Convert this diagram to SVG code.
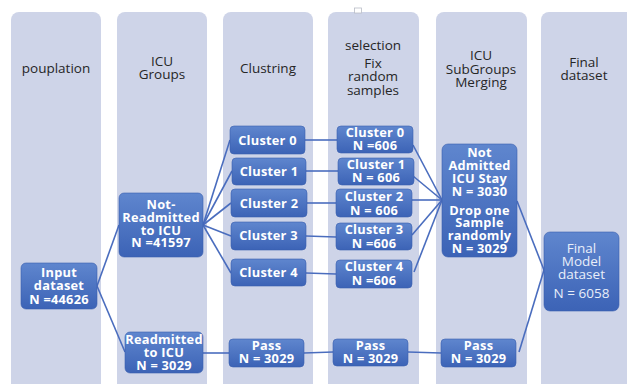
<svg xmlns="http://www.w3.org/2000/svg" width="627" height="384" viewBox="0 0 627 384">
<defs>
<linearGradient id="g" x1="0" y1="0" x2="0" y2="1">
<stop offset="0" stop-color="#5F86CE"/>
<stop offset="1" stop-color="#3C63B6"/>
</linearGradient>
<style>
.col{fill:#CED4E8}
.hd{font-family:"Open Sans","DejaVu Sans",sans-serif;font-size:13.5px;fill:#262626;text-anchor:middle}
.nd{fill:url(#g);stroke:#3A5FAE;stroke-width:0.6}
.t{font-family:"Open Sans","DejaVu Sans",sans-serif;font-size:12.8px;letter-spacing:0.25px;font-weight:bold;fill:#FFFFFF;text-anchor:middle}
.tn{font-family:"Open Sans","DejaVu Sans",sans-serif;font-size:13.5px;fill:#E8EEF9;text-anchor:middle}
.c{stroke:#4A6DBE;stroke-width:1.6;fill:none}
</style>
</defs>
<rect width="627" height="384" fill="#FFFFFF"/>
<g id="columns">
<rect class="col" x="11" y="12" width="90" height="390" rx="8"/>
<rect class="col" x="117" y="12" width="90" height="390" rx="8"/>
<rect class="col" x="223" y="12" width="90" height="390" rx="8"/>
<rect class="col" x="328" y="12" width="91" height="390" rx="8"/>
<rect class="col" x="436" y="12" width="91" height="390" rx="8"/>
<rect class="col" x="541" y="12" width="95" height="390" rx="8"/>
<rect x="354.5" y="8" width="7" height="5" fill="#FFFFFF" stroke="#B8BCC6" stroke-width="0.8"/>
<text class="hd" x="56" y="73">pouplation</text>
<text class="hd" x="162" y="66">ICU</text>
<text class="hd" x="162" y="79">Groups</text>
<text class="hd" x="268" y="73">Clustring</text>
<text class="hd" x="373" y="50">selection</text>
<text class="hd" x="373" y="68">Fix</text>
<text class="hd" x="373" y="81">random</text>
<text class="hd" x="373" y="95">samples</text>
<text class="hd" x="481" y="60">ICU</text>
<text class="hd" x="481" y="74">SubGroups</text>
<text class="hd" x="481" y="87">Merging</text>
<text class="hd" x="584" y="67">Final</text>
<text class="hd" x="584" y="80">dataset</text>
</g>
<g id="connectors">
<line class="c" x1="97" y1="286" x2="119" y2="225"/>
<line class="c" x1="97" y1="286" x2="125" y2="352"/>
<line class="c" x1="203" y1="225" x2="230" y2="140"/>
<line class="c" x1="203" y1="225" x2="232" y2="171"/>
<line class="c" x1="203" y1="225" x2="231" y2="203"/>
<line class="c" x1="203" y1="225" x2="231" y2="236"/>
<line class="c" x1="203" y1="225" x2="231" y2="273"/>
<line class="c" x1="305" y1="140" x2="337" y2="140"/>
<line class="c" x1="306" y1="171" x2="338" y2="171"/>
<line class="c" x1="307" y1="203" x2="336" y2="203"/>
<line class="c" x1="306" y1="236" x2="336" y2="237"/>
<line class="c" x1="306" y1="273" x2="336" y2="274"/>
<line class="c" x1="413" y1="145" x2="442" y2="200"/>
<line class="c" x1="413" y1="176" x2="442" y2="200"/>
<line class="c" x1="412" y1="200" x2="442" y2="200"/>
<line class="c" x1="412" y1="235" x2="442" y2="200"/>
<line class="c" x1="414" y1="272" x2="442" y2="200"/>
<line class="c" x1="517" y1="201" x2="544" y2="270"/>
<line class="c" x1="519" y1="352" x2="544" y2="270"/>
<line class="c" x1="203" y1="353" x2="229" y2="353"/>
<line class="c" x1="304" y1="353" x2="333" y2="352"/>
<line class="c" x1="408" y1="352" x2="441" y2="353"/>
</g>
<g id="input"><rect class="nd" x="21" y="263" width="76" height="46" rx="5"/>
<text class="t" x="59" y="276.5">Input</text><text class="t" x="59" y="290">dataset</text><text class="t" x="59" y="304">N =44626</text></g>
<g id="notreadmitted"><rect class="nd" x="119" y="193" width="84" height="64" rx="5"/>
<text class="t" x="161" y="209">Not-</text><text class="t" x="161" y="222">Readmitted</text><text class="t" x="161" y="234.5">to ICU</text><text class="t" x="161" y="247">N =41597</text></g>
<g id="readmitted"><rect class="nd" x="125" y="332" width="78" height="41" rx="5"/>
<text class="t" x="164" y="343.5">Readmitted</text><text class="t" x="164" y="357">to ICU</text><text class="t" x="164" y="370">N = 3029</text></g>
<g id="c0"><rect class="nd" x="230" y="126" width="75" height="28" rx="4"/><text class="t" x="267.5" y="144.5">Cluster 0</text></g>
<g id="c1"><rect class="nd" x="232" y="158" width="74" height="27" rx="4"/><text class="t" x="269" y="175.5">Cluster 1</text></g>
<g id="c2"><rect class="nd" x="231" y="189" width="76" height="28" rx="4"/><text class="t" x="269" y="207.5">Cluster 2</text></g>
<g id="c3"><rect class="nd" x="231" y="222" width="75" height="28" rx="4"/><text class="t" x="268.5" y="240">Cluster 3</text></g>
<g id="c4"><rect class="nd" x="231" y="259" width="75" height="27" rx="4"/><text class="t" x="268.5" y="277">Cluster 4</text></g>
<g id="pass1"><rect class="nd" x="229" y="339" width="75" height="28" rx="4"/><text class="t" x="266.5" y="349.5">Pass</text><text class="t" x="266.5" y="363">N = 3029</text></g>
<g id="s0"><rect class="nd" x="337" y="126" width="76" height="27" rx="4"/><text class="t" x="375" y="136.5">Cluster 0</text><text class="t" x="375" y="149.5">N =606</text></g>
<g id="s1"><rect class="nd" x="338" y="158" width="76" height="27" rx="4"/><text class="t" x="376" y="168.5">Cluster 1</text><text class="t" x="376" y="182">N = 606</text></g>
<g id="s2"><rect class="nd" x="336" y="189" width="76" height="28" rx="4"/><text class="t" x="374" y="201">Cluster 2</text><text class="t" x="374" y="214.5">N = 606</text></g>
<g id="s3"><rect class="nd" x="336" y="223" width="76" height="27" rx="4"/><text class="t" x="374" y="234">Cluster 3</text><text class="t" x="374" y="247.5">N =606</text></g>
<g id="s4"><rect class="nd" x="336" y="260" width="76" height="28" rx="4"/><text class="t" x="374" y="271">Cluster 4</text><text class="t" x="374" y="284.5">N =606</text></g>
<g id="pass2"><rect class="nd" x="333" y="339" width="75" height="27" rx="4"/><text class="t" x="370.5" y="349.5">Pass</text><text class="t" x="370.5" y="363">N = 3029</text></g>
<g id="merge"><rect class="nd" x="442" y="144" width="75" height="113" rx="6"/>
<text class="t" x="479.5" y="156.5">Not</text><text class="t" x="479.5" y="169.5">Admitted</text><text class="t" x="479.5" y="182.5">ICU Stay</text><text class="t" x="479.5" y="195.5">N = 3030</text>
<text class="t" x="479.5" y="214.5">Drop one</text><text class="t" x="479.5" y="227">Sample</text><text class="t" x="479.5" y="239.5">randomly</text><text class="t" x="479.5" y="252.5">N = 3029</text></g>
<g id="pass3"><rect class="nd" x="441" y="339" width="75" height="28" rx="4"/><text class="t" x="478.5" y="349.5">Pass</text><text class="t" x="478.5" y="363">N = 3029</text></g>
<g id="final"><rect class="nd" x="544" y="232" width="75" height="79" rx="6"/>
<text class="tn" x="581.5" y="253">Final</text><text class="tn" x="581.5" y="266">Model</text><text class="tn" x="581.5" y="279">dataset</text><text class="tn" x="581.5" y="297.5">N = 6058</text></g>
</svg>
